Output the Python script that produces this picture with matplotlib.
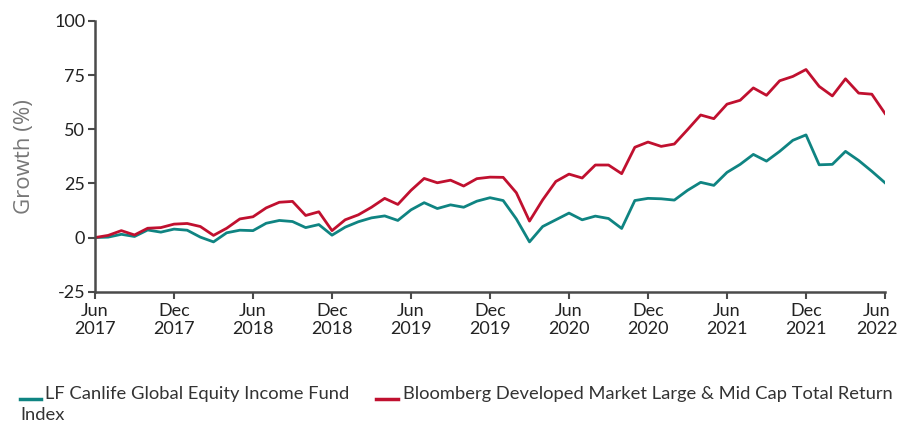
import numpy as np
import matplotlib
matplotlib.use('Agg')
from matplotlib import pyplot as plt
from matplotlib.lines import Line2D
from matplotlib.transforms import ScaledTranslation

# monthly growth (%) Jun 2017 .. Jun 2022
fund = [0.0, 0.2, 1.5, 0.5, 3.5, 2.5, 3.9, 3.4, 0.2, -2.0,
        2.2, 3.4, 3.2, 6.6, 7.9, 7.4, 4.6, 6.0, 1.1, 4.8,
        7.3, 9.1, 10.0, 7.9, 12.8, 16.1, 13.4, 15.1, 14.0, 16.8,
        18.4, 17.1, 8.6, -2.0, 5.1, 8.2, 11.3, 8.2, 9.9, 8.8,
        4.2, 17.1, 18.1, 17.9, 17.3, 21.8, 25.5, 24.1, 30.1, 33.8,
        38.4, 35.3, 39.8, 44.9, 47.4, 33.6, 33.8, 39.8, 35.6, 30.6,
        25.3]
index = [0.0, 1.0, 3.2, 1.2, 4.3, 4.6, 6.2, 6.5, 5.1, 1.0,
         4.3, 8.6, 9.6, 13.7, 16.3, 16.7, 10.2, 11.9, 3.2, 8.2,
         10.5, 14.0, 18.1, 15.3, 21.8, 27.3, 25.3, 26.5, 23.8, 27.2,
         27.9, 27.8, 20.7, 7.6, 17.4, 25.9, 29.3, 27.5, 33.5, 33.5,
         29.5, 41.7, 44.1, 42.1, 43.2, 49.8, 56.6, 54.9, 61.6, 63.4,
         69.1, 65.7, 72.4, 74.4, 77.6, 69.8, 65.4, 73.3, 66.7, 66.2,
         57.3]
tick_labels = ['Jun\n2017', 'Dec\n2017', 'Jun\n2018', 'Dec\n2018', 'Jun\n2019',
               'Dec\n2019', 'Jun\n2020', 'Dec\n2020', 'Jun\n2021', 'Dec\n2021',
               'Jun\n2022']
yticks = [-25, 0, 25, 50, 75, 100]
fund_name = 'LF Canlife Global Equity Income Fund'
index_name = 'Bloomberg Developed Market Large & Mid Cap Total Return'

teal = '#0f8482'
red = '#c0102f'
axcol = '#4a4a4a'

plt.rcParams['font.family'] = ['Lato', 'DejaVu Sans']

fig = plt.figure(figsize=(9.03, 4.23), dpi=100)
ax = fig.add_axes([95/903, 1-291.7/423, 790/903, 270.7/423])

months = np.arange(len(fund))
ax.plot(months, fund, color=teal, lw=2)
ax.plot(months, index, color=red, lw=2)

ax.set_xlim(0, 60)
ax.set_ylim(-25, 100)
ax.set_xticks(np.arange(0, 61, 6))
ax.set_xticklabels(tick_labels, fontsize=13, color='#222222', linespacing=1.15)
ax.set_yticks(yticks)
ax.set_yticklabels([str(v) for v in yticks], fontsize=13, color='#222222')
ax.tick_params(axis='both', length=5, width=1.5, color=axcol, pad=2)
ax.tick_params(axis='x', pad=3)
for s in ['top', 'right']:
    ax.spines[s].set_visible(False)
for s in ['left', 'bottom']:
    ax.spines[s].set_linewidth(1.8)
    ax.spines[s].set_color(axcol)
ax.spines['bottom'].set_bounds(0, 60)

# last label nudged left so it stays inside the figure
last = ax.get_xticklabels()[-1]
last.set_transform(last.get_transform() + ScaledTranslation(-8/100, 0, fig.dpi_scale_trans))

ax.set_ylabel('Growth (%)', fontsize=16, color='#777777', family='Open Sans', labelpad=14)

# legend laid out like the web version (wraps onto a second line)
fig.add_artist(Line2D([20/903, 41/903], [1-398.5/423]*2, color=teal, lw=2.5))
fig.text(45/903, 1-394/423, fund_name, fontsize=13.2, color='#333333', va='center')
fig.add_artist(Line2D([376/903, 398/903], [1-398.5/423]*2, color=red, lw=2.5))
fig.text(403/903, 1-394/423, index_name, fontsize=13.2, color='#333333', va='center')
fig.text(20/903, 1-415/423, 'Index', fontsize=13.2, color='#333333', va='center')

fig.savefig('out.png', dpi=100)
